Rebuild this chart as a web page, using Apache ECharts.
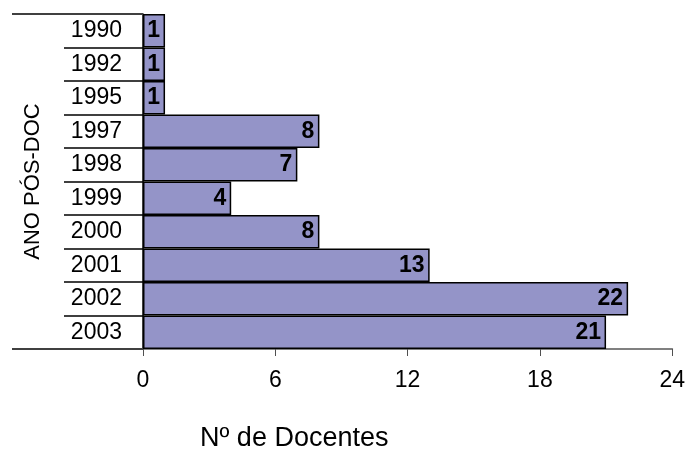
<!DOCTYPE html>
<html>
<head>
<meta charset="utf-8">
<script src="https://cdn.jsdelivr.net/npm/echarts@6/dist/echarts.min.js"></script>
<style>
html,body{margin:0;padding:0;background:#fff;}
#chart{width:688px;height:450px;}
</style>
</head>
<body>
<div id="chart"></div>
<script>
// Ano do pós-doutorado e número de docentes
const anos = ['1990', '1992', '1995', '1997', '1998', '1999', '2000', '2001', '2002', '2003'];
const docentes = [1, 1, 1, 8, 7, 4, 8, 13, 22, 21];
const xTicks = [0, 6, 12, 18, 24];

const FONT = 'Liberation Sans, Arial, sans-serif';
const chart = echarts.init(document.getElementById('chart'));

chart.setOption({
  animation: false,
  grid: { left: 143, right: 13, top: 14, bottom: 101 },
  xAxis: {
    type: 'value',
    min: xTicks[0],
    max: xTicks[xTicks.length - 1],
    interval: xTicks[1] - xTicks[0],
    splitLine: { show: false },
    axisLine: { show: true, lineStyle: { color: '#808080', width: 2 } },
    axisTick: { show: true, length: 7, lineStyle: { color: '#505050', width: 1 } },
    axisLabel: { color: '#000', fontSize: 23, fontFamily: FONT, margin: 20 }
  },
  yAxis: [
    {
      type: 'category',
      data: anos,
      inverse: true,
      name: 'ANO PÓS-DOC',
      nameLocation: 'middle',
      nameGap: 99,
      nameTextStyle: { color: '#000', fontSize: 22, fontFamily: FONT },
      axisLine: { show: true, lineStyle: { color: '#000', width: 1.5 } },
      axisTick: { show: true, length: 79, lineStyle: { color: '#000', width: 1.5 } },
      axisLabel: { color: '#000', fontSize: 23, fontFamily: FONT, margin: 21 }
    },
    {
      // long frame lines at the top and bottom of the category column
      type: 'value',
      position: 'left',
      min: 0, max: 1, interval: 1,
      axisLine: { show: false },
      axisLabel: { show: false },
      splitLine: { show: false },
      axisTick: { show: true, length: 131, lineStyle: { color: '#404040', width: 2 } }
    }
  ],
  series: [{
    type: 'bar',
    data: docentes,
    yAxisIndex: 0,
    barCategoryGap: '0%',
    itemStyle: { color: '#9494C8', borderColor: '#000', borderWidth: 1.5 },
    label: {
      show: true,
      position: 'insideRight',
      distance: 5,
      color: '#000',
      fontSize: 23,
      fontWeight: 'bold',
      fontFamily: FONT
    }
  }],
  graphic: [{
    type: 'text',
    x: 200,
    y: 439,
    style: {
      text: 'Nº de Docentes',
      fill: '#000',
      font: '27px ' + FONT,
      textAlign: 'left',
      textVerticalAlign: 'middle'
    }
  }]
});
</script>
</body>
</html>
